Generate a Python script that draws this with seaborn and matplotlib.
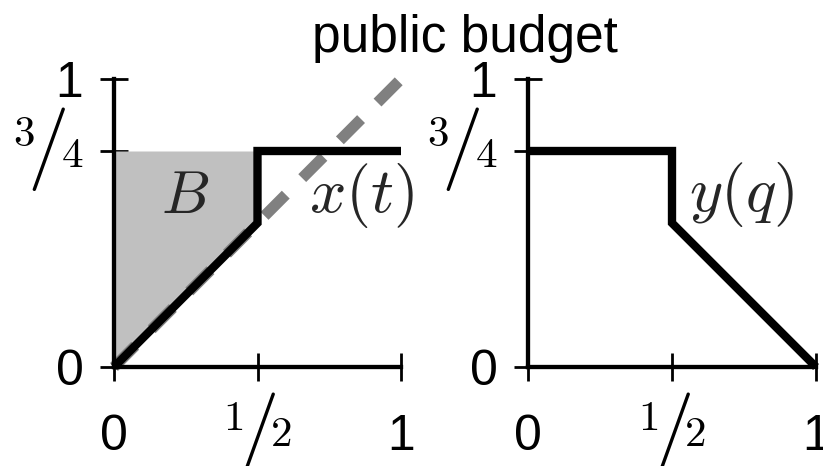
import matplotlib
matplotlib.use("Agg")
import matplotlib.pyplot as plt
import seaborn as sns

# Allocation rule x(t) on the left, payment rule y(q) on the right
t_pts = [0.0, 0.5, 0.5, 1.0]
x_vals = [0.0, 0.5, 0.75, 0.75]
q_pts = [0.0, 0.5, 0.5, 1.0]
y_vals = [0.75, 0.75, 0.5, 0.0]

# Public budget line (45-degree line)
budget_t = [0.0, 1.0]
budget_vals = [0.0, 1.0]

# Shaded region B: between x(t) and the 3/4 level up to t = 1/2
b_t = [0.0, 0.5]
b_low = [0.0, 0.5]
b_high = 0.75

tick_pos = [0.0, 0.5, 1.0]
ytick_pos = [0.0, 0.75, 1.0]
tick_text = ["0", "", "1"]

sns.set_theme(style="white")
plt.rcParams["font.family"] = ["Liberation Sans", "DejaVu Sans"]
plt.rcParams["mathtext.fontset"] = "cm"

fig = plt.figure(figsize=(8.23, 4.66), dpi=100)
ax_l = fig.add_axes([114 / 823, 99 / 466, 287 / 823, 288 / 466])
ax_r = fig.add_axes([528 / 823, 99 / 466, 288 / 823, 288 / 466])

GRAY_FILL = "#c0c0c0"
GRAY_LINE = "#808080"


def style_axes(ax):
    ax.set_xlim(0, 1)
    ax.set_ylim(0, 1)
    for side in ("top", "right"):
        ax.spines[side].set_visible(False)
    for side in ("left", "bottom"):
        ax.spines[side].set_linewidth(3.1)
        ax.spines[side].set_color("black")
    ax.set_xticks(tick_pos)
    ax.set_xticklabels(tick_text)
    ax.set_yticks(ytick_pos)
    ax.set_yticklabels(tick_text)
    ax.tick_params(axis="both", which="major", bottom=True, left=True,
                   direction="inout", length=20, width=2.0,
                   color="black", labelsize=36, labelcolor="black")
    ax.tick_params(axis="x", pad=24)
    ax.tick_params(axis="y", pad=12)
    ax.set_xlabel("")
    ax.set_ylabel("")
    ax.set_facecolor("white")


def nicefrac(ax, num, den, which):
    """Draw a slanted fraction label next to a tick."""
    if which == "y":
        trans = ax.get_yaxis_transform()
        xy = (0.0, 0.75)
        offs = [(-64.8, 11.5), (-49.0, 1.4), (-30.2, -3.6)]
    else:
        trans = ax.get_xaxis_transform()
        xy = (0.5, 0.0)
        offs = [(-17.3, -37.4), (-0.7, -48.2), (16.6, -49.0)]
    pieces = [(f"${num}$", 31), ("$/$", 60), (f"${den}$", 31)]
    for (txt, size), off in zip(pieces, offs):
        ax.annotate(txt, xy=xy, xycoords=trans, xytext=off,
                    textcoords="offset points", ha="center", va="center",
                    fontsize=size, color="black", annotation_clip=False)


# Left panel
ax_l.fill_between(b_t, b_low, b_high, color=GRAY_FILL, lw=0, zorder=1)
sns.lineplot(x=budget_t, y=budget_vals, ax=ax_l, color=GRAY_LINE, lw=8,
             linestyle=(0, (2.7, 2.1)), dash_capstyle="butt",
             sort=False, estimator=None, clip_on=False, zorder=2)
sns.lineplot(x=t_pts, y=x_vals, ax=ax_l, color="black", lw=6,
             sort=False, estimator=None, clip_on=False, zorder=3,
             solid_joinstyle="miter", solid_capstyle="butt")
style_axes(ax_l)
ax_l.text(0.247, 0.59, "$B$", fontsize=44, ha="center", va="center")
ax_l.text(0.864, 0.597, "$x(t)$", fontsize=46, ha="center", va="center")
nicefrac(ax_l, 3, 4, "y")
nicefrac(ax_l, 1, 2, "x")

# Right panel
sns.lineplot(x=q_pts, y=y_vals, ax=ax_r, color="black", lw=6,
             sort=False, estimator=None, clip_on=False, zorder=3,
             solid_joinstyle="miter", solid_capstyle="butt")
style_axes(ax_r)
ax_r.text(0.743, 0.60, "$y(q)$", fontsize=46, ha="center", va="center")
nicefrac(ax_r, 3, 4, "y")
nicefrac(ax_r, 1, 2, "x")

fig.text(465 / 823, (466 - 52) / 466, "public budget", fontsize=37,
         ha="center", va="baseline", color="black")

fig.savefig("out.png", dpi=100, facecolor="white")
